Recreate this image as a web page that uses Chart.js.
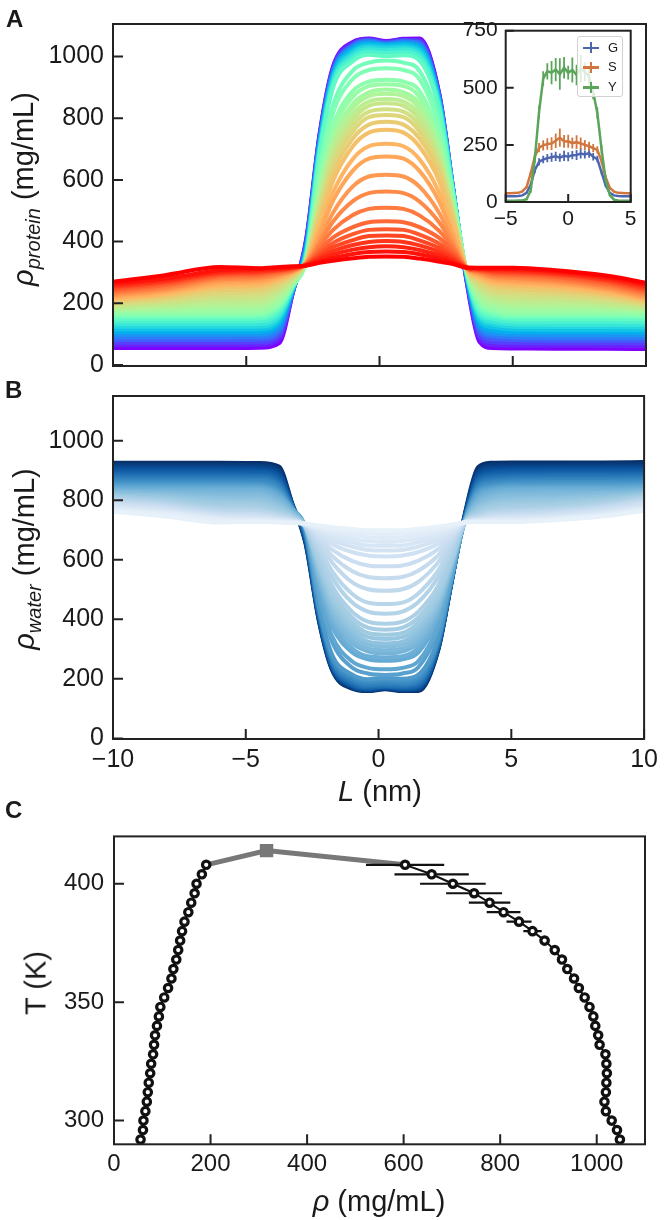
<!DOCTYPE html>
<html>
<head>
<meta charset="utf-8">
<script src="https://cdn.jsdelivr.net/npm/chart.js@4.4.1/dist/chart.umd.min.js"></script>
<style>
  body { margin: 0; background: #fff; }
  #fig { position: relative; width: 664px; height: 1220px; overflow: hidden; background: #fff;
         font-family: 'Liberation Sans', Arial, sans-serif; color: #1a1a1a; }
  canvas { position: absolute; }
  .panel { position: absolute; font-size: 24px; font-weight: bold; line-height: 1; }
  .title { position: absolute; font-size: 29px; line-height: 1; white-space: nowrap; transform: translate(-50%, -50%); }
  .title.rot { transform: translate(-50%, -50%) rotate(-90deg); }
  .sub { font-size: 20px; font-style: italic; position: relative; top: 7px; }
  #legend { position: absolute; left: 577px; top: 36px; width: 46px; height: 61px; box-sizing: border-box;
            border: 1px solid #d2d2d2; border-radius: 3px; background: rgba(255,255,255,0.8); }
  .entry { position: absolute; left: 0; height: 14px; font-size: 13px; line-height: 14px; }
  .entry .h { position: absolute; left: 5px; top: 6px; width: 16px; height: 2.5px; }
  .entry .v { position: absolute; left: 11.75px; top: 1.5px; width: 2.5px; height: 11px; }
  .entry .t { position: absolute; left: 30px; top: 0; }
</style>
</head>
<body>
<div id="fig">
  <canvas id="protein" width="664" height="390" style="left:0;top:0"></canvas>
  <canvas id="water" width="664" height="418" style="left:0;top:372px"></canvas>
  <canvas id="phase" width="664" height="408" style="left:0;top:812px"></canvas>
  <canvas id="inset" width="210" height="230" style="left:440px;top:10px"></canvas>

  <div class="panel" style="left:6px;top:7px">A</div>
  <div class="panel" style="left:5px;top:378px">B</div>
  <div class="panel" style="left:5px;top:798px">C</div>

  <div class="title rot" style="left:23px;top:189px"><i>ρ</i><span class="sub">protein</span> (mg/mL)</div>
  <div class="title rot" style="left:24px;top:559px"><i>ρ</i><span class="sub">water</span> (mg/mL)</div>
  <div class="title" style="left:380px;top:791px"><i>L</i> (nm)</div>
  <div class="title rot" style="left:36px;top:983px">T (K)</div>
  <div class="title" style="left:379px;top:1201px"><i>ρ</i> (mg/mL)</div>

  <div id="legend">
    <div class="entry" style="top:3.5px"><span class="h" style="background:#4C66AF"></span><span class="v" style="background:#4C66AF"></span><span class="t">G</span></div>
    <div class="entry" style="top:23px"><span class="h" style="background:#D1763F"></span><span class="v" style="background:#D1763F"></span><span class="t">S</span></div>
    <div class="entry" style="top:43px"><span class="h" style="background:#5AA55A"></span><span class="v" style="background:#5AA55A"></span><span class="t">Y</span></div>
  </div>
</div>
<script>
// slab profiles, coldest run first (12 below ~1000 mg/mL plateau, then 24 warmer)
const positionsNm = [-10, -8, -6, -4.5, -3.75, -3.25, -2.75, -2.25, -1.75, -1.0, -0.4, 0.25, 0.9, 1.5, 2.25, 2.75, 3.25, 3.75, 4.25, 5.0, 6.5, 8.5, 10];

const proteinProfiles = [
  [55,55,55,56,72,234,410,749,966,1047,1058,1050,1057,1058,877,580,279,75,55,54,53,53,52],
  [64,64,64,65,83,236,405,744,962,1044,1056,1048,1055,1054,874,579,283,86,65,63,63,62,62],
  [72,72,72,73,93,237,400,739,958,1041,1054,1046,1053,1050,871,579,286,95,74,72,71,71,70],
  [81,81,81,82,104,239,394,734,954,1038,1052,1044,1051,1046,868,578,289,105,85,81,80,80,79],
  [89,89,89,90,113,240,389,729,949,1034,1049,1041,1048,1042,864,577,291,115,94,89,88,88,87],
  [98,98,98,99,124,242,384,724,945,1030,1046,1038,1045,1037,861,576,294,125,103,98,97,97,96],
  [107,107,107,108,134,245,378,718,939,1025,1042,1038,1041,1031,856,575,297,134,113,107,106,106,105],
  [115,115,115,116,143,246,373,712,933,1019,1037,1033,1036,1024,851,573,299,143,122,115,114,114,113],
  [124,124,124,125,153,249,367,705,925,1012,1031,1027,1030,1017,845,571,301,153,132,124,123,123,122],
  [132,132,132,133,161,251,362,698,917,1004,1024,1020,1023,1008,839,568,303,161,140,132,131,131,130],
  [141,141,141,142,171,253,357,689,908,994,1015,1011,1014,998,831,565,306,170,150,141,140,140,139],
  [150,150,150,151,180,256,351,681,897,984,1005,1001,1004,986,822,561,307,179,159,150,149,149,148],
  [158,158,158,159,189,256,342,641,841,954,980,987,980,953,786,558,309,190,167,158,158,158,155],
  [163,163,163,164,195,258,341,623,815,927,956,962,956,926,767,550,310,197,173,163,163,163,160],
  [168,168,168,169,200,260,340,593,774,888,918,924,918,888,733,531,311,204,178,168,168,168,165],
  [173,173,173,174,206,262,340,581,757,869,904,910,904,868,722,527,312,210,184,173,173,173,170],
  [178,180,182,183,215,266,339,562,733,847,884,893,884,847,704,517,313,220,194,183,182,180,175],
  [182,186,191,192,223,270,339,550,718,832,871,879,871,831,693,513,314,229,203,192,190,187,179],
  [187,193,201,203,233,274,338,538,700,813,854,862,854,813,681,508,314,239,213,203,201,194,184],
  [192,200,212,214,242,279,338,522,680,795,840,848,840,795,665,499,315,249,224,214,211,202,189],
  [197,207,222,225,251,283,337,510,662,776,821,829,821,775,652,494,316,258,234,225,221,210,194],
  [202,214,233,236,260,288,337,498,644,756,803,810,803,756,638,488,316,266,244,236,231,217,199],
  [207,221,243,247,269,292,336,480,620,734,779,788,779,734,618,476,316,275,255,247,241,225,204],
  [212,228,252,257,276,296,335,463,595,709,753,762,753,708,593,459,316,282,264,257,250,232,209],
  [216,233,259,264,281,299,334,441,559,668,709,717,709,667,557,436,316,287,270,264,257,238,213],
  [221,239,266,271,286,302,333,425,531,630,669,676,669,629,528,420,316,292,277,271,264,244,218],
  [226,244,273,278,291,304,331,405,493,579,611,617,611,578,491,400,316,296,283,278,270,249,223],
  [231,249,278,283,295,306,329,394,464,531,557,562,557,530,461,390,316,300,287,283,275,254,228],
  [236,254,283,288,298,308,328,384,437,486,506,510,506,485,434,380,316,302,292,288,280,259,233],
  [241,259,288,293,302,310,326,372,413,447,463,466,463,447,411,369,316,305,296,293,285,264,238],
  [246,264,292,297,305,312,326,363,395,424,438,440,438,423,393,359,316,307,300,297,289,269,243],
  [251,269,296,301,307,314,325,355,382,405,418,420,418,404,379,351,316,309,303,301,294,274,248],
  [255,272,299,304,309,315,324,348,369,389,399,402,399,388,367,344,316,310,306,304,297,277,252],
  [260,277,303,308,312,316,324,342,358,374,382,385,382,373,355,338,316,312,309,308,301,282,257],
  [265,281,307,312,315,318,323,336,347,360,366,368,366,359,345,332,316,314,313,312,305,286,262],
  [270,292,318,314,318,320,322,331,338,346,351,352,351,345,335,327,316,315,315,315,308,290,267]
];

const waterProfiles = [
  [926,926,926,925,913,789,654,395,229,167,159,165,159,159,297,524,755,911,926,927,927,927,928],
  [919,919,919,918,905,787,658,399,232,169,160,166,161,162,299,525,751,902,918,920,920,921,921],
  [913,913,913,912,897,787,662,403,235,172,162,168,162,165,302,525,749,895,911,913,914,914,914],
  [906,906,906,905,888,785,667,406,238,174,163,169,164,168,304,526,747,888,903,906,907,907,908],
  [900,900,900,899,882,784,670,410,242,177,166,172,166,171,307,527,745,880,896,900,901,901,901],
  [893,893,893,892,873,783,674,414,245,180,168,174,169,175,309,527,743,872,889,893,894,894,895],
  [886,886,886,885,865,781,679,419,250,184,171,174,172,179,313,528,741,865,882,886,887,887,888],
  [880,880,880,879,859,780,683,423,254,188,175,178,175,185,317,530,739,859,875,880,881,881,882],
  [873,873,873,872,851,778,687,429,260,194,179,182,180,190,322,531,738,851,867,873,874,874,875],
  [867,867,867,866,845,776,691,434,266,200,185,188,185,197,326,533,736,845,861,867,868,868,869],
  [860,860,860,859,837,774,695,441,273,208,192,195,192,205,332,536,734,838,853,860,861,861,862],
  [853,853,853,852,830,772,699,447,282,215,199,202,200,214,339,539,733,831,846,853,854,854,855],
  [847,847,847,846,823,772,706,478,325,238,218,213,218,239,367,541,732,823,840,847,847,847,849],
  [843,843,843,843,819,771,707,491,344,259,237,232,237,260,381,547,731,817,836,843,843,843,846],
  [839,839,839,839,815,769,708,514,376,289,266,261,266,289,407,562,730,812,832,839,839,839,842],
  [836,836,836,835,810,768,708,524,389,303,276,272,276,304,416,565,729,807,827,836,836,836,838],
  [832,830,829,828,804,765,709,538,407,320,292,285,292,320,429,572,729,800,820,828,829,830,834],
  [829,826,822,821,797,761,709,547,419,331,302,296,302,332,438,576,728,793,813,821,823,825,831],
  [825,820,814,813,790,758,709,556,432,346,315,309,315,346,447,579,728,785,805,813,814,820,827],
  [821,815,806,804,783,755,709,569,448,360,325,319,325,360,459,586,727,778,797,804,807,813,823],
  [817,810,798,796,776,751,710,578,462,374,340,334,340,375,469,590,726,771,789,796,799,807,820],
  [813,804,790,787,769,748,710,587,475,390,354,348,354,390,480,595,726,765,781,787,791,802,816],
  [810,799,782,779,762,745,711,601,494,406,372,365,372,406,495,604,726,758,773,779,784,796,812],
  [806,794,775,771,757,742,712,614,513,426,392,385,392,426,514,617,726,752,766,771,777,790,808],
  [803,790,770,766,753,739,712,631,540,457,426,419,426,458,542,634,726,748,761,766,771,786,805],
  [799,785,765,761,749,737,713,643,562,486,456,451,456,487,564,647,726,745,756,761,766,781,801],
  [795,781,759,755,745,735,715,658,591,525,501,496,501,526,592,662,726,742,752,755,761,778,797],
  [791,778,755,752,742,734,716,667,613,562,542,538,542,563,615,670,726,738,748,752,758,774,794],
  [787,774,752,748,740,732,717,674,634,596,581,578,581,597,636,677,726,737,745,748,754,770,790],
  [784,770,748,744,737,731,719,683,652,626,614,611,614,626,654,686,726,735,742,744,750,766,786],
  [780,766,745,741,735,729,719,690,666,644,633,631,633,644,667,693,726,733,738,741,747,762,782],
  [776,762,742,738,733,728,719,696,676,658,648,647,648,659,678,699,726,732,736,738,743,758,778],
  [773,760,739,735,732,727,720,702,686,670,663,660,663,671,687,705,726,731,734,735,741,756,775],
  [769,756,736,732,729,726,720,706,694,682,676,673,676,683,696,709,726,729,732,732,738,752,771],
  [765,753,733,729,727,725,721,711,702,693,688,686,688,693,704,714,726,728,729,729,735,749,768],
  [761,745,725,728,725,723,722,715,709,703,699,699,699,704,712,718,726,727,727,727,732,746,764]
];

// inset: per-residue profiles (1/3 nm bins)
const insetX = [-5,-4.67,-4.33,-4,-3.67,-3.33,-3,-2.67,-2.33,-2,-1.67,-1.33,-1,-0.67,-0.33,0,0.33,0.67,1,1.33,1.67,2,2.33,2.67,3,3.33,3.67,4,4.33,4.67,5];
const gDensity = [25,25,25,26,29,40,75,140,176,186,192,196,200,194,202,198,205,206,212,208,214,198,188,130,72,40,29,26,25,25,25];
const gErr = [2,2,2,2,2,4,8,14,16,16,18,20,20,18,22,20,18,22,22,18,20,16,14,10,7,4,2,2,2,2,2];
const sDensity = [38,38,39,40,46,65,125,200,238,248,254,256,268,282,265,266,258,262,256,250,244,236,228,180,108,62,45,40,39,38,38];
const sErr = [2,2,2,2,3,5,10,16,20,22,25,28,32,40,28,28,24,30,26,22,20,18,16,12,8,4,3,2,2,2,2];
const yDensity = [6,6,6,7,7,12,50,190,395,540,572,566,580,560,588,566,578,556,584,570,550,480,390,230,95,30,10,7,6,6,6];
const yErr = [2,2,2,2,2,4,10,20,28,32,36,51,51,69,47,30,55,45,60,40,35,30,25,18,10,5,2,2,2,2,2];

// phase diagram
const temperatures = [292,296,300,304,308,312,316,320,324,328,332,336,340,344,348,352,356,360,364,368,372,376,380,384,388,392,396,400,404,408];
const rhoDilute = [55,60,61,65,68,70,72,75,77,81,83,85,89,93,96,104,112,119,123,129,133,137,141,146,154,160,167,171,182,191];
const rhoDense = [1048,1042,1031,1019,1016,1019,1020,1021,1020,1018,1006,1003,997,993,985,975,963,953,939,928,913,892,867,839,807,778,746,702,658,603];
const rhoDenseErr = [4,4,4,4,4,4,4,4,4,4,4,4,5,5,5,5,5,6,6,7,8,10,19,26,35,43,58,68,77,81];
const criticalRho = 316;
const criticalT = 414;

const profileXTicks = [-10, -5, 0, 5, 10];
const profileYTicks = [0, 200, 400, 600, 800, 1000];
const insetXTicks = [-5, 0, 5];
const insetYTicks = [0, 250, 500, 750];
const phaseXTicks = [0, 200, 400, 600, 800, 1000];
const phaseYTicks = [300, 350, 400];

Chart.defaults.font.family = "'Liberation Sans', Arial, sans-serif";
Chart.defaults.color = '#1a1a1a';
Chart.defaults.animation = false;

const ink = '#222';
const coldCount = 12;

function rainbow(t) {
  const r = Math.min(1, Math.abs(2 * t - 0.5));
  const g = Math.sin(Math.PI * t);
  const b = Math.cos(Math.PI * t / 2);
  return 'rgb(' + Math.round(r * 255) + ',' + Math.round(g * 255) + ',' + Math.round(b * 255) + ')';
}

const bluesStops = [[247,251,255],[222,235,247],[198,219,239],[158,202,225],[107,174,214],[66,146,198],[33,113,181],[8,81,156],[8,48,107]];
function blues(s) {
  const p = Math.max(0, Math.min(1, s)) * 8;
  const i = Math.min(7, Math.floor(p));
  const f = p - i;
  const c = bluesStops[i].map((v, k) => Math.round(v + (bluesStops[i + 1][k] - v) * f));
  return 'rgb(' + c.join(',') + ')';
}

function shade(i) {
  if (i < coldCount) return i * 0.04;
  return 0.48 + (i - coldCount) * 0.52 / (proteinProfiles.length - coldCount - 1);
}

const minus = v => String(v).replace('-', '\u2212');

// frame + inward ticks, matplotlib style
const frameTicks = {
  id: 'frameTicks',
  beforeDraw(chart, args, opts) {
    if (!opts.fill) return;
    const a = chart.chartArea;
    chart.ctx.save();
    chart.ctx.fillStyle = opts.fill;
    chart.ctx.fillRect(a.left, a.top, a.width, a.height);
    chart.ctx.restore();
  },
  afterDraw(chart, args, opts) {
    const { ctx, chartArea: a } = chart;
    const x = chart.scales.x, y = chart.scales.y;
    ctx.save();
    ctx.strokeStyle = ink;
    ctx.lineWidth = 2;
    ctx.beginPath();
    (opts.xTicks || []).forEach(v => {
      const px = x.getPixelForValue(v);
      ctx.moveTo(px, a.bottom);
      ctx.lineTo(px, a.bottom - opts.len);
    });
    (opts.yTicks || []).forEach(v => {
      const py = y.getPixelForValue(v);
      ctx.moveTo(a.left, py);
      ctx.lineTo(a.left + opts.len, py);
    });
    ctx.stroke();
    ctx.strokeRect(a.left, a.top, a.width, a.height);
    ctx.restore();
  }
};

function drawErr(chart, index, horizontal) {
  const ds = chart.data.datasets[index];
  const err = horizontal ? ds.errX : ds.errY;
  if (!err) return;
  const { ctx } = chart;
  const x = chart.scales.x, y = chart.scales.y;
  ctx.save();
  ctx.strokeStyle = ds.errColor || ds.borderColor;
  ctx.lineWidth = ds.errWidth || 1.5;
  ctx.beginPath();
  ds.data.forEach((p, k) => {
    if (horizontal) {
      const py = y.getPixelForValue(p.y);
      ctx.moveTo(x.getPixelForValue(p.x - err[k]), py);
      ctx.lineTo(x.getPixelForValue(p.x + err[k]), py);
    } else {
      const px = x.getPixelForValue(p.x);
      ctx.moveTo(px, y.getPixelForValue(p.y - err[k]));
      ctx.lineTo(px, y.getPixelForValue(p.y + err[k]));
    }
  });
  ctx.stroke();
  ctx.restore();
}

const errorBars = {
  id: 'errorBars',
  beforeDatasetDraw(chart, args) { drawErr(chart, args.index, true); },
  afterDatasetDraw(chart, args) { drawErr(chart, args.index, false); }
};

function linearAxis(min, max, ticks, fit, tickOpts) {
  return {
    type: 'linear',
    min: min,
    max: max,
    grid: { display: false, drawTicks: false },
    border: { display: false },
    afterBuildTicks: s => { s.ticks = ticks.map(v => ({ value: v })); },
    afterFit: fit,
    ticks: Object.assign({ autoSkip: false, maxRotation: 0, color: '#1a1a1a', callback: minus }, tickOpts)
  };
}

function profileChart(id, rows, palette, yMin, yMax, pad, xHeight, showX) {
  const datasets = rows.map((row, i) => ({
    data: row.map((v, k) => ({ x: positionsNm[k], y: v })),
    borderColor: palette(shade(i)),
    borderWidth: 4,
    pointRadius: 0,
    cubicInterpolationMode: 'monotone',
    order: rows.length - i
  }));
  return new Chart(document.getElementById(id), {
    type: 'line',
    data: { datasets: datasets },
    plugins: [frameTicks],
    options: {
      responsive: false,
      events: [],
      layout: { padding: pad },
      plugins: {
        legend: { display: false },
        tooltip: { enabled: false },
        frameTicks: { xTicks: profileXTicks, yTicks: profileYTicks, len: 10 }
      },
      scales: {
        x: linearAxis(-10, 10, profileXTicks, s => { s.height = xHeight; },
          { display: showX, font: { size: 25 }, padding: 6 }),
        y: linearAxis(yMin, yMax, profileYTicks, s => { s.width = 113; },
          { font: { size: 25 }, padding: 9 })
      }
    }
  });
}

profileChart('protein', proteinProfiles, rainbow, -3, 1105, { top: 12, right: 18, left: 0, bottom: 0 }, 22.5, false);
profileChart('water', waterProfiles, s => blues(1 - 0.92 * s), -2, 1150, { top: 9, right: 18, left: 0, bottom: 0 }, 51, true);

// inset
const insetSeries = [
  { values: yDensity, err: yErr, color: '#5AA55A' },
  { values: sDensity, err: sErr, color: '#D1763F' },
  { values: gDensity, err: gErr, color: '#4C66AF' }
];
new Chart(document.getElementById('inset'), {
  type: 'line',
  data: {
    datasets: insetSeries.map((s, i) => ({
      data: s.values.map((v, k) => ({ x: insetX[k], y: v })),
      errY: s.err,
      borderColor: s.color,
      borderWidth: 2.5,
      errWidth: 1.8,
      pointRadius: 0,
      order: i
    }))
  },
  plugins: [frameTicks, errorBars],
  options: {
    responsive: false,
    events: [],
    layout: { padding: { top: 20.7, right: 19.3, left: 0, bottom: 0 } },
    plugins: {
      legend: { display: false },
      tooltip: { enabled: false },
      frameTicks: { xTicks: insetXTicks, yTicks: insetYTicks, len: 8, fill: '#fff' }
    },
    scales: {
      x: linearAxis(-5, 5, insetXTicks, s => { s.height = 38; }, { font: { size: 21 }, padding: 5 }),
      y: linearAxis(0, 750, insetYTicks, s => { s.width = 65.7; }, { font: { size: 21 }, padding: 8 })
    }
  }
});

// phase diagram
const last = temperatures.length - 1;
const circle = {
  borderColor: '#111',
  borderWidth: 2,
  pointRadius: 3.7,
  pointBorderWidth: 3.2,
  pointBorderColor: '#111',
  pointBackgroundColor: '#fff'
};
new Chart(document.getElementById('phase'), {
  type: 'line',
  data: {
    datasets: [
      Object.assign({
        data: rhoDense.map((r, i) => ({ x: r, y: temperatures[i] })),
        errX: rhoDenseErr,
        errColor: '#111',
        errWidth: 2.2,
        order: 0
      }, circle),
      Object.assign({
        data: rhoDilute.map((r, i) => ({ x: r, y: temperatures[i] })),
        order: 1
      }, circle),
      {
        data: [
          { x: rhoDilute[last], y: temperatures[last] },
          { x: criticalRho, y: criticalT },
          { x: rhoDense[last], y: temperatures[last] }
        ],
        borderColor: '#787878',
        borderWidth: 5,
        pointStyle: 'rect',
        pointRadius: ctx => ctx.dataIndex === 1 ? 9.5 : 0,
        pointBackgroundColor: '#787878',
        pointBorderWidth: 0,
        order: 2
      }
    ]
  },
  plugins: [frameTicks, errorBars],
  options: {
    responsive: false,
    events: [],
    layout: { padding: { top: 10.7, right: 19, left: 0, bottom: 0 } },
    plugins: {
      legend: { display: false },
      tooltip: { enabled: false },
      frameTicks: { xTicks: phaseXTicks, yTicks: phaseYTicks, len: 10 }
    },
    scales: {
      x: linearAxis(0, 1100, phaseXTicks, s => { s.height = 75.7; }, { font: { size: 24 }, padding: 6 }),
      y: linearAxis(290, 420, phaseYTicks, s => { s.width = 114; }, { font: { size: 24 }, padding: 10 })
    }
  }
});
</script>
</body>
</html>
